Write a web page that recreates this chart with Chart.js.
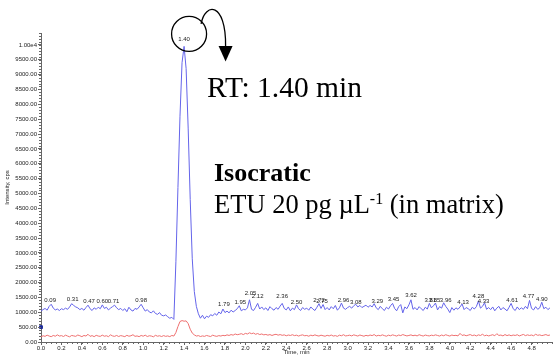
<!DOCTYPE html>
<html>
<head>
<meta charset="utf-8">
<script src="https://cdn.jsdelivr.net/npm/chart.js@4.4.1/dist/chart.umd.min.js"></script>
<style>
  html, body { margin: 0; padding: 0; background: #fff; }
  #chart { display: block; }
</style>
</head>
<body>
<canvas id="chart" width="557" height="356"></canvas>
<script>
// Retention times (min), sampled every 0.02 min
const times = [
  0.00, 0.02, 0.04, 0.06, 0.08, 0.10, 0.12, 0.14, 0.16, 0.18,
  0.20, 0.22, 0.24, 0.26, 0.28, 0.30, 0.32, 0.34, 0.36, 0.38,
  0.40, 0.42, 0.44, 0.46, 0.48, 0.50, 0.52, 0.54, 0.56, 0.58,
  0.60, 0.62, 0.64, 0.66, 0.68, 0.70, 0.72, 0.74, 0.76, 0.78,
  0.80, 0.82, 0.84, 0.86, 0.88, 0.90, 0.92, 0.94, 0.96, 0.98,
  1.00, 1.02, 1.04, 1.06, 1.08, 1.10, 1.12, 1.14, 1.16, 1.18,
  1.20, 1.22, 1.24, 1.26, 1.28, 1.30, 1.32, 1.34, 1.36, 1.38,
  1.40, 1.42, 1.44, 1.46, 1.48, 1.50, 1.52, 1.54, 1.56, 1.58,
  1.60, 1.62, 1.64, 1.66, 1.68, 1.70, 1.72, 1.74, 1.76, 1.78,
  1.80, 1.82, 1.84, 1.86, 1.88, 1.90, 1.92, 1.94, 1.96, 1.98,
  2.00, 2.02, 2.04, 2.06, 2.08, 2.10, 2.12, 2.14, 2.16, 2.18,
  2.20, 2.22, 2.24, 2.26, 2.28, 2.30, 2.32, 2.34, 2.36, 2.38,
  2.40, 2.42, 2.44, 2.46, 2.48, 2.50, 2.52, 2.54, 2.56, 2.58,
  2.60, 2.62, 2.64, 2.66, 2.68, 2.70, 2.72, 2.74, 2.76, 2.78,
  2.80, 2.82, 2.84, 2.86, 2.88, 2.90, 2.92, 2.94, 2.96, 2.98,
  3.00, 3.02, 3.04, 3.06, 3.08, 3.10, 3.12, 3.14, 3.16, 3.18,
  3.20, 3.22, 3.24, 3.26, 3.28, 3.30, 3.32, 3.34, 3.36, 3.38,
  3.40, 3.42, 3.44, 3.46, 3.48, 3.50, 3.52, 3.54, 3.56, 3.58,
  3.60, 3.62, 3.64, 3.66, 3.68, 3.70, 3.72, 3.74, 3.76, 3.78,
  3.80, 3.82, 3.84, 3.86, 3.88, 3.90, 3.92, 3.94, 3.96, 3.98,
  4.00, 4.02, 4.04, 4.06, 4.08, 4.10, 4.12, 4.14, 4.16, 4.18,
  4.20, 4.22, 4.24, 4.26, 4.28, 4.30, 4.32, 4.34, 4.36, 4.38,
  4.40, 4.42, 4.44, 4.46, 4.48, 4.50, 4.52, 4.54, 4.56, 4.58,
  4.60, 4.62, 4.64, 4.66, 4.68, 4.70, 4.72, 4.74, 4.76, 4.78,
  4.80, 4.82, 4.84, 4.86, 4.88, 4.90, 4.92, 4.94, 4.96, 4.98
];

// Quantifier transition (blue), cps
const blueTrace = [
  1040, 1090, 1130, 1070, 1200, 1270, 1140, 1080, 1110, 1060,
  1120, 1090, 1140, 1100, 1180, 1290, 1230, 1180, 1150, 1090,
  1130, 1070, 1160, 1240, 1120, 1060, 1150, 1100, 1170, 1120,
  1250, 1130, 1170, 1080, 1140, 1190, 1240, 1150, 1090, 1130,
  1060, 1120, 1020, 1170, 1080, 1040, 1130, 1100, 1180, 1270,
  1150, 1040, 1090, 1010, 980, 1050, 960, 930, 990, 900,
  880, 910, 850, 800, 830, 760, 2700, 5200, 7600, 9400,
  9950, 9200, 7200, 4800, 2800, 1700, 1200, 950, 800, 900,
  780, 870, 830, 920, 880, 960, 900, 1010, 950, 1110,
  990, 1040, 980, 1070, 1010, 1060, 1120, 1220, 1050, 1100,
  1080, 1150, 1420, 1100, 1060, 1170, 1300, 1110, 1180, 1090,
  1150, 1060, 1190, 1120, 1070, 1160, 1100, 1210, 1300, 1130,
  1080, 1180, 1050, 1140, 1090, 1250, 1120, 1060, 1160, 1100,
  1140, 1070, 1180, 1110, 1060, 1170, 1290, 1130, 1260, 1090,
  1160, 1080, 1190, 1120, 1230, 1070, 1150, 1310, 1140, 1100,
  1160, 1200, 1140, 1220, 1270, 1180, 1230, 1160, 1200, 1240,
  1170, 1230, 1180, 1290, 1150, 1090, 1200, 1120, 1060, 1170,
  1110, 1220, 1300, 1130, 1050, 1190, 1260, 980, 1180, 1120,
  1250, 1420, 1100, 1160, 1080, 1190, 1120, 1060, 1170, 1110,
  1300, 1150, 1220, 1310, 1080, 1190, 1140, 1320, 1200, 1110,
  990, 1160, 1070, 1150, 1100, 1180, 1280, 1090, 1160, 1120,
  1060, 1170, 1110, 1190, 1380, 1140, 1200, 1320, 1100, 1160,
  1090, 1180, 1050, 1140, 1200, 1080, 1160, 1110, 1050, 1170,
  1300, 1120, 1060, 1180, 1090, 1150, 1100, 1200, 1120, 1400,
  1130, 1080, 1190, 1100, 1150, 1340, 1120, 1170, 1090, 1150
];

// Qualifier transition (red), cps
const redTrace = [
  170, 210, 190, 230, 200, 180, 220, 195, 240, 200,
  215, 185, 230, 200, 175, 220, 205, 190, 235, 210,
  180, 220, 200, 260, 190, 215, 180, 225, 200, 190,
  230, 195, 210, 180, 240, 205, 190, 220, 185, 215,
  200, 180, 225, 195, 210, 245, 190, 205, 180, 220,
  195, 230, 185, 210, 200, 175, 225, 195, 210, 185,
  215, 190, 205, 180, 220, 200, 320, 520, 690, 720,
  700, 710, 620, 430, 300, 240, 200, 215, 185, 205,
  190, 220, 200, 185, 230, 205, 190, 215, 200, 225,
  210, 240, 220, 250, 230, 270, 245, 260, 280, 250,
  290, 270, 310, 280, 300, 260, 285, 250, 270, 240,
  255, 230, 250, 220, 245, 260, 230, 250, 225, 240,
  210, 235, 220, 245, 215, 230, 200, 225, 240, 210,
  220, 195, 230, 210, 240, 215, 200, 230, 210, 195,
  225, 205, 235, 200, 215, 190, 230, 210, 245, 205,
  215, 230, 205, 240, 220, 200, 235, 215, 195, 225,
  205, 235, 215, 250, 200, 225, 210, 240, 215, 195,
  230, 210, 240, 220, 200, 235, 215, 250, 225, 205,
  220, 240, 210, 230, 205, 245, 220, 200, 235, 215,
  205, 230, 215, 240, 220, 200, 235, 210, 245, 220,
  200, 235, 215, 225, 205, 290, 220, 240, 210, 230,
  250, 215, 235, 205, 240, 220, 260, 210, 230, 205,
  225, 245, 210, 280, 220, 235, 205, 250, 215, 240,
  210, 235, 220, 245, 205, 230, 255, 215, 240, 220,
  235, 210, 260, 225, 240, 215, 230, 250, 220, 235
];

// Peak retention-time labels and the height (cps) at which each sits
const peakTimes   = [0.09, 0.31, 0.47, 0.60, 0.71, 0.98, 1.40, 1.79, 1.95, 2.05, 2.12, 2.36, 2.50, 2.72, 2.75, 2.96, 3.08, 3.29, 3.45, 3.62, 3.81, 3.85, 3.96, 4.13, 4.28, 4.33, 4.61, 4.77, 4.90];
const peakHeights = [1400, 1430, 1370, 1370, 1370, 1400, 10200, 1260, 1350, 1630, 1520, 1520, 1340, 1400, 1360, 1400, 1340, 1370, 1430, 1560, 1400, 1400, 1400, 1350, 1520, 1370, 1400, 1540, 1450];

const xTicks = [0.0, 0.2, 0.4, 0.6, 0.8, 1.0, 1.2, 1.4, 1.6, 1.8, 2.0, 2.2, 2.4, 2.6, 2.8, 3.0, 3.2, 3.4, 3.6, 3.8, 4.0, 4.2, 4.4, 4.6, 4.8];
const yTicks = [0, 500, 1000, 1500, 2000, 2500, 3000, 3500, 4000, 4500, 5000, 5500, 6000, 6500, 7000, 7500, 8000, 8500, 9000, 9500, 10000];

const axisColor = '#666';
const textColor = '#222';
const smallFont = { family: 'Arial', size: 6 };
const serif = '"Liberation Serif", "Times New Roman", serif';

// minor ticks, peak labels and the hand-drawn notes on top of the plot
const overlayPlugin = {
    id: 'overlay',
    afterDraw(chart) {
        const ctx = chart.ctx;
        const xs = chart.scales.x;
        const ys = chart.scales.y;
        const area = chart.chartArea;

        ctx.save();
        ctx.strokeStyle = axisColor;
        ctx.lineWidth = 1;
        ctx.beginPath();
        for (let v = 0; v <= ys.max; v += 100) {
            const py = Math.round(ys.getPixelForValue(v)) + 0.5;
            ctx.moveTo(area.left - 2, py);
            ctx.lineTo(area.left, py);
        }
        for (let v = 0; v <= xs.max; v += 0.05) {
            const px = Math.round(xs.getPixelForValue(v)) + 0.5;
            ctx.moveTo(px, area.bottom);
            ctx.lineTo(px, area.bottom + 2);
        }
        ctx.stroke();

        // peak labels
        ctx.fillStyle = textColor;
        ctx.font = '6px Arial';
        ctx.textAlign = 'center';
        ctx.textBaseline = 'middle';
        peakTimes.forEach((t, i) => {
            ctx.fillText(t.toFixed(2), xs.getPixelForValue(t), ys.getPixelForValue(peakHeights[i]));
        });

        // circle round the main peak and the curved arrow
        const cx = xs.getPixelForValue(1.40) + 5;
        const cy = ys.getPixelForValue(10200) - 5;
        ctx.strokeStyle = '#000';
        ctx.lineWidth = 1.3;
        ctx.beginPath();
        ctx.arc(cx, cy, 17.5, 0, Math.PI * 2);
        ctx.stroke();

        ctx.beginPath();
        ctx.moveTo(cx + 12, cy - 10);
        ctx.bezierCurveTo(cx + 16, cy - 32, cx + 37, cy - 32, cx + 36.5, cy + 12);
        ctx.stroke();
        ctx.fillStyle = '#000';
        ctx.beginPath();
        ctx.moveTo(cx + 29.5, cy + 12);
        ctx.lineTo(cx + 43.5, cy + 12);
        ctx.lineTo(cx + 36.5, cy + 27.5);
        ctx.closePath();
        ctx.fill();

        // text notes
        ctx.textAlign = 'left';
        ctx.textBaseline = 'alphabetic';
        ctx.font = '29.5px ' + serif;
        ctx.fillText('RT: 1.40 min', 207, 97);

        ctx.font = 'bold 26px ' + serif;
        ctx.fillText('Isocratic', 214, 181);

        ctx.font = '26.5px ' + serif;
        let x = 214;
        const part1 = 'ETU 20 pg \u00b5L';
        ctx.fillText(part1, x, 213);
        x += ctx.measureText(part1).width;
        ctx.font = '16px ' + serif;
        ctx.fillText('-1', x, 204);
        x += ctx.measureText('-1').width;
        ctx.font = '26.5px ' + serif;
        ctx.fillText(' (in matrix)', x, 213);
        ctx.restore();
    }
};

const ctx = document.getElementById('chart').getContext('2d');

const chromChart = new Chart(ctx, {
    type: 'line',
    data: {
        datasets: [
            {
                label: 'marker',
                data: [{ x: 0, y: 500 }],
                showLine: false,
                pointStyle: 'rect',
                pointRadius: 2,
                backgroundColor: '#1c2a9a',
                borderColor: '#1c2a9a',
                clip: false
            },
            {
                label: 'Qualifier',
                data: times.map((t, i) => ({ x: t, y: redTrace[i] })),
                borderColor: '#ee6f6f',
                borderWidth: 1,
                pointRadius: 0,
                tension: 0
            },
            {
                label: 'Quantifier',
                data: times.map((t, i) => ({ x: t, y: blueTrace[i] })),
                borderColor: '#6464ea',
                borderWidth: 1,
                pointRadius: 0,
                tension: 0
            }
        ]
    },
    options: {
        responsive: false,
        animation: false,
        devicePixelRatio: 1,
        layout: { padding: { top: 33, right: 0, bottom: 0, left: 0 } },
        plugins: {
            legend: { display: false },
            tooltip: { enabled: false }
        },
        scales: {
            x: {
                type: 'linear',
                min: 0,
                max: 5,
                afterBuildTicks: scale => { scale.ticks = xTicks.map(v => ({ value: v })); },
                afterFit: scale => { scale.height = 14; },
                ticks: {
                    font: smallFont,
                    color: textColor,
                    padding: 0,
                    maxRotation: 0,
                    autoSkip: false,
                    callback: v => Number(v).toFixed(1)
                },
                grid: { drawOnChartArea: false, tickLength: 3, color: axisColor },
                border: { color: axisColor },
                title: {
                    display: true,
                    text: 'Time, min',
                    font: smallFont,
                    color: textColor,
                    padding: { top: 0, bottom: 0 }
                }
            },
            y: {
                min: 0,
                max: 10400,
                afterBuildTicks: scale => { scale.ticks = yTicks.map(v => ({ value: v })); },
                afterFit: scale => { scale.width = 41; },
                ticks: {
                    font: smallFont,
                    color: textColor,
                    padding: 1,
                    autoSkip: false,
                    callback: v => v >= 10000 ? '1.00e4' : Number(v).toFixed(2)
                },
                grid: { drawOnChartArea: false, tickLength: 3, color: axisColor },
                border: { color: axisColor },
                title: {
                    display: true,
                    text: 'Intensity, cps',
                    font: smallFont,
                    color: textColor,
                    padding: { top: 4, bottom: 0 }
                }
            }
        }
    },
    plugins: [overlayPlugin]
});
</script>
</body>
</html>
